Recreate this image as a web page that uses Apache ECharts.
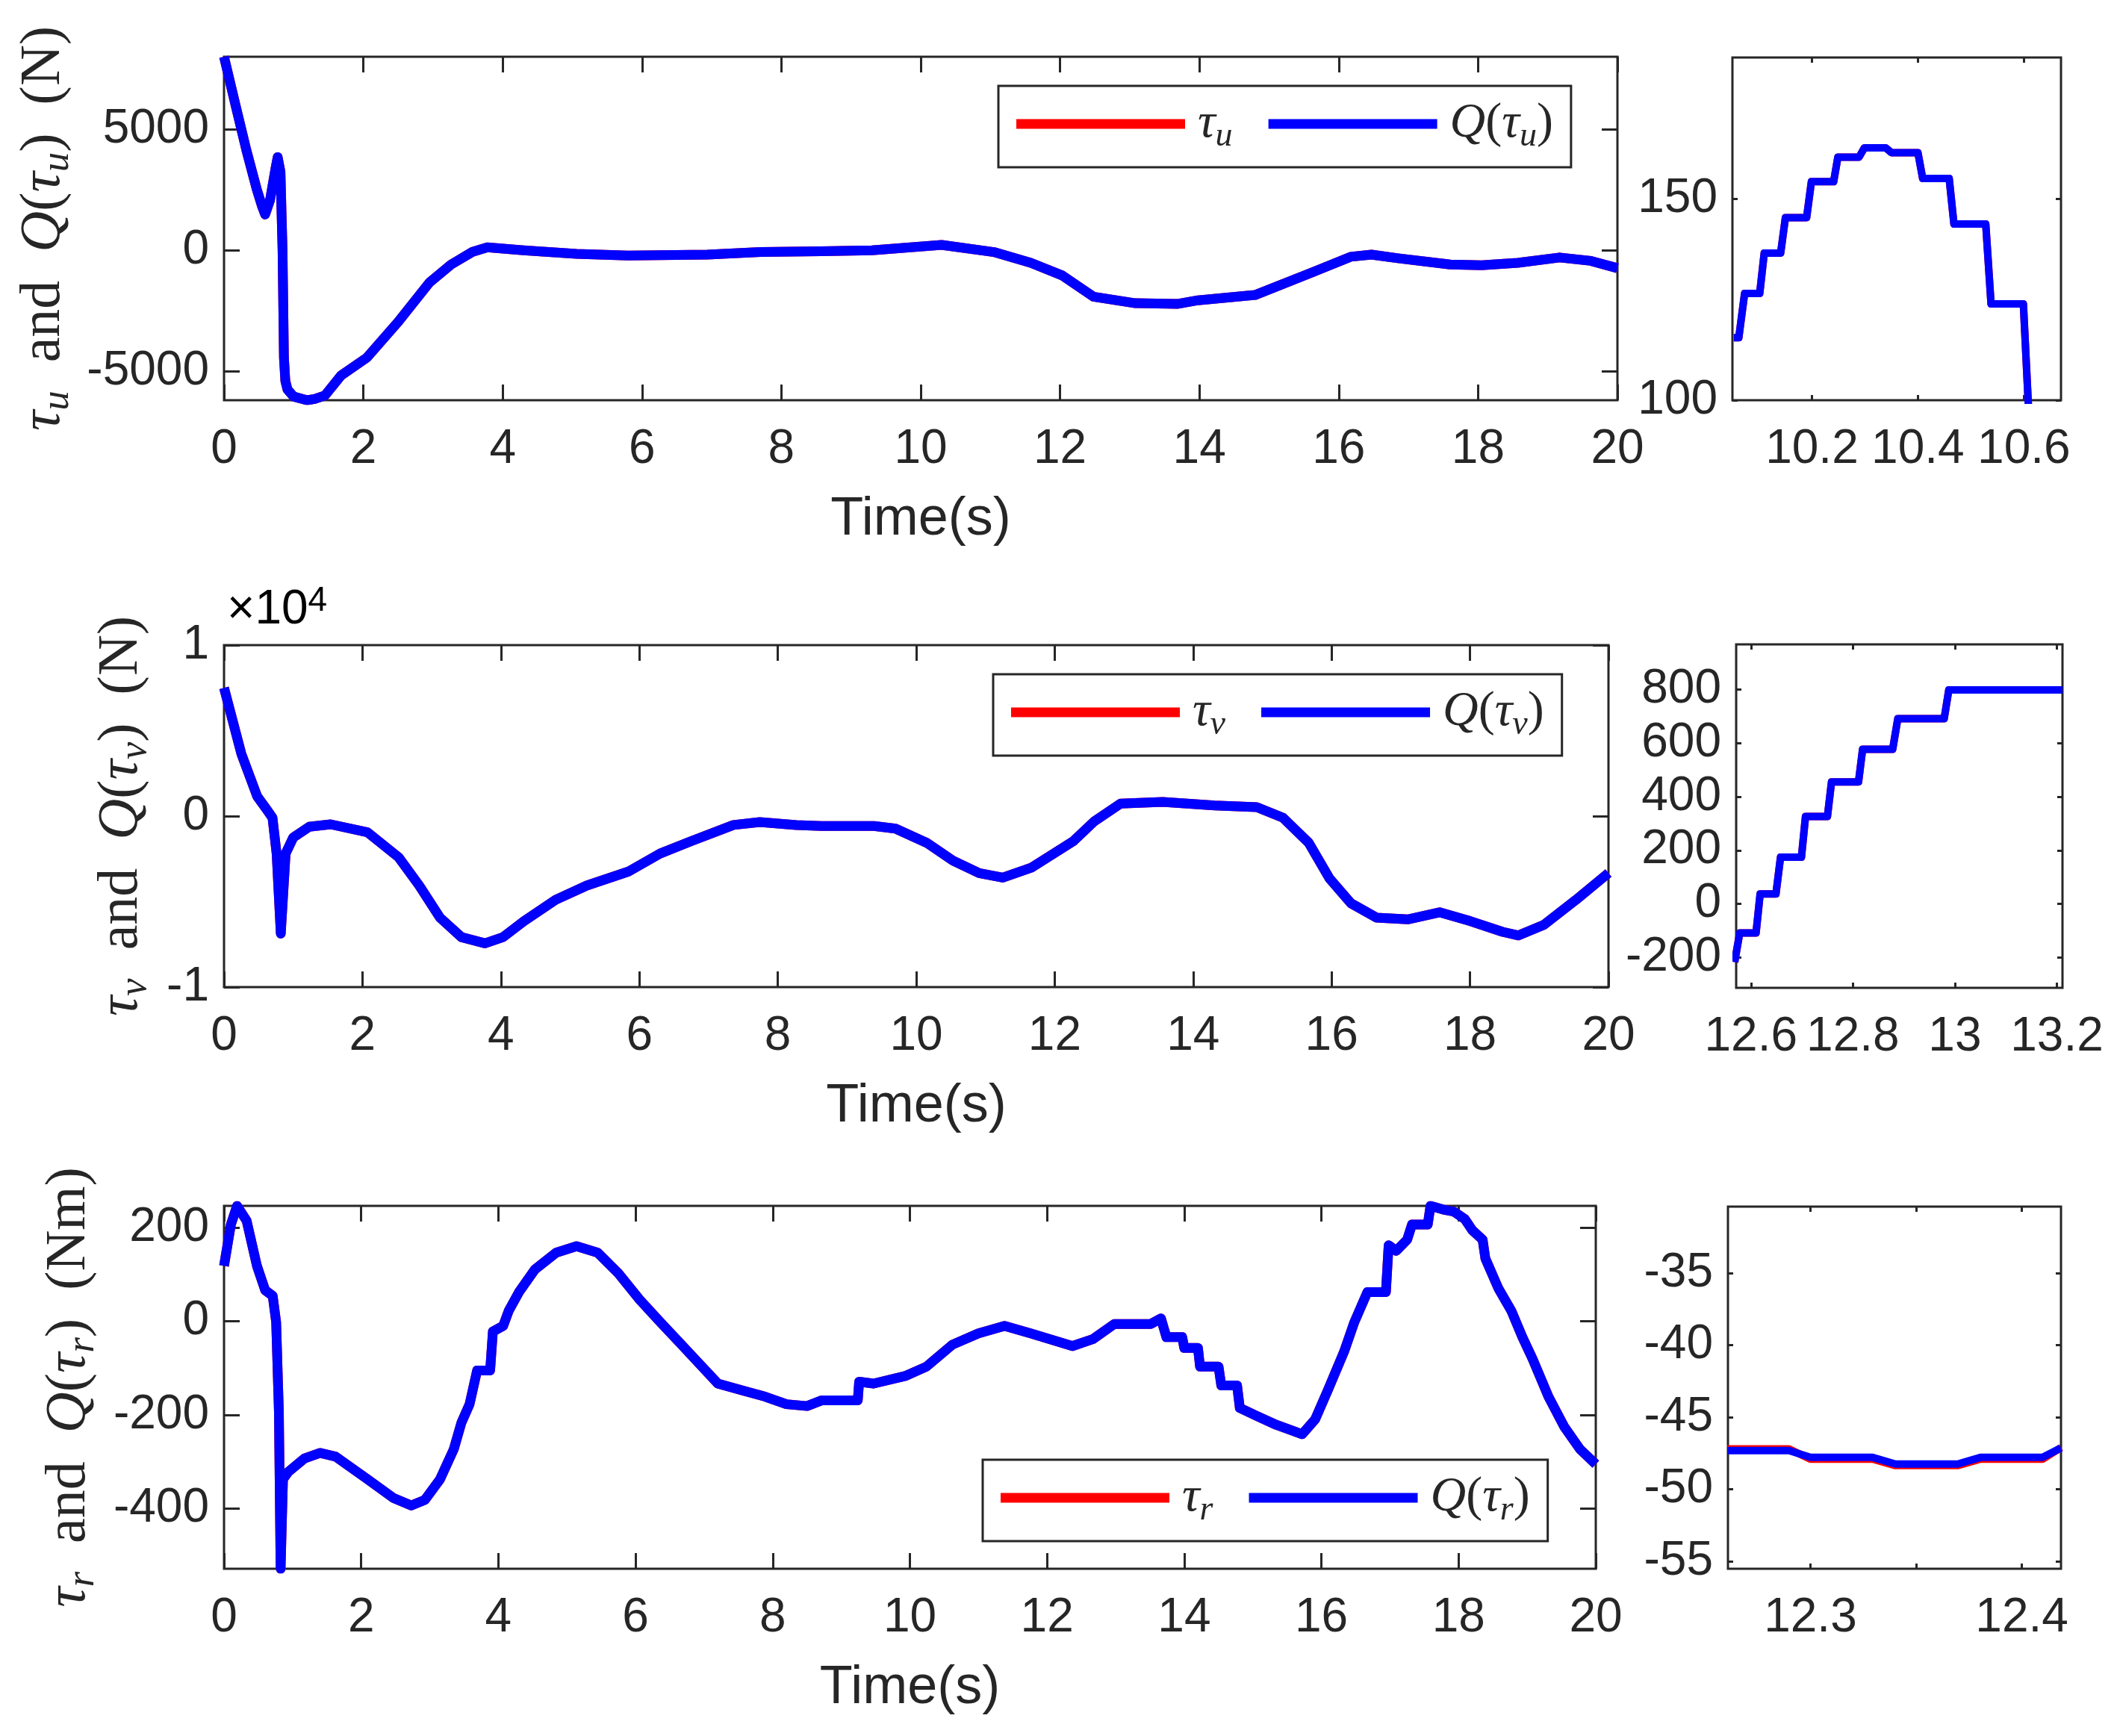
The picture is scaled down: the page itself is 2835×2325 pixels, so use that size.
<!DOCTYPE html>
<html>
<head>
<meta charset="utf-8">
<script src="https://cdn.jsdelivr.net/npm/echarts@6/dist/echarts.min.js"></script>
<style>
  html, body { margin: 0; padding: 0; background: #fff; }
  #chart { width: 2835px; height: 2325px; }
</style>
</head>
<body>
<div id="chart"></div>
<script>
// surge force tau_u (N)
const timeU = [0, 0.17, 0.32, 0.47, 0.55, 0.59, 0.66, 0.74, 0.77, 0.81, 0.84, 0.86, 0.88, 0.91, 1.0, 1.19, 1.3, 1.45, 1.68, 2.05, 2.5, 2.95, 3.26, 3.56, 3.78, 4.3, 5.06, 5.8, 6.94, 7.7, 8.57, 9.3, 10.3, 11.05, 11.58, 12.03, 12.48, 13.08, 13.68, 13.98, 14.8, 15.64, 16.17, 16.47, 16.85, 17.6, 18.05, 18.57, 19.17, 19.62, 20];
const tauU  = [8000, 5940, 4150, 2520, 1780, 1480, 2070, 3400, 3850, 3250, 0, -4440, -5400, -5750, -6050, -6200, -6150, -6000, -5180, -4440, -2960, -1330, -590, -74, 118, 0, -150, -220, -180, -75, -40, 0, 220, -75, -520, -1040, -1920, -2190, -2220, -2070, -1850, -890, -270, -180, -330, -590, -620, -520, -300, -440, -740];

// zoom on tau_u around t = 10.3 s (quantised steps)
const zoomTimeU = [10.0526, 10.062, 10.073, 10.1015, 10.110, 10.141, 10.150, 10.190, 10.199, 10.241, 10.249, 10.289, 10.299, 10.339, 10.350, 10.400, 10.409, 10.459, 10.468, 10.528, 10.538, 10.599, 10.608, 10.611];
const zoomQU    = [115.5, 115.5, 126.5, 126.5, 136.5, 136.5, 145.3, 145.3, 154.2, 154.2, 160.3, 160.3, 162.6, 162.6, 161.4, 161.4, 155.0, 155.0, 143.7, 143.7, 123.9, 123.9, 100, 92];

// sway force tau_v (N)
const timeV = [0, 0.25, 0.48, 0.63, 0.70, 0.76, 0.82, 0.89, 1.0, 1.23, 1.54, 2.07, 2.52, 2.82, 3.12, 3.43, 3.77, 4.03, 4.33, 4.79, 5.24, 5.85, 6.3, 6.75, 7.36, 7.74, 8.27, 8.63, 9.39, 9.70, 10.15, 10.53, 10.91, 11.25, 11.66, 12.27, 12.57, 12.95, 13.56, 14.31, 14.92, 15.3, 15.67, 15.97, 16.28, 16.65, 17.1, 17.56, 18.01, 18.47, 18.7, 19.07, 19.53, 20];
const tauV  = [7500, 3650, 1150, 310, -100, -2200, -6875, -2190, -1250, -625, -480, -940, -2400, -4060, -5940, -7080, -7440, -7080, -6150, -4900, -4060, -3230, -2190, -1460, -520, -350, -520, -580, -580, -730, -1560, -2600, -3330, -3600, -3020, -1460, -310, 730, 830, 625, 520, -100, -1560, -3650, -5100, -5940, -6040, -5625, -6150, -6770, -6980, -6350, -4900, -3330];

// zoom on tau_v around t = 12.8 s
const zoomTimeV = [12.568, 12.578, 12.610, 12.618, 12.649, 12.658, 12.699, 12.707, 12.750, 12.758, 12.811, 12.819, 12.878, 12.888, 12.979, 12.988, 13.211];
const zoomQV    = [-217, -108, -108, 37, 37, 174, 174, 326, 326, 455, 455, 577, 577, 691, 691, 798, 798];

// yaw moment tau_r (Nm)
const timeR = [0, 0.1, 0.19, 0.33, 0.48, 0.6, 0.71, 0.76, 0.80, 0.825, 0.86, 0.94, 1.17, 1.40, 1.63, 2.09, 2.47, 2.73, 2.93, 3.15, 3.35, 3.46, 3.58, 3.69, 3.88, 3.92, 4.07, 4.15, 4.3, 4.53, 4.84, 5.14, 5.45, 5.75, 6.06, 6.36, 6.67, 6.97, 7.2, 7.59, 7.89, 8.2, 8.5, 8.71, 9.24, 9.26, 9.47, 9.93, 10.24, 10.62, 11.0, 11.38, 11.76, 12.37, 12.67, 12.98, 13.51, 13.66, 13.74, 13.97, 14.0, 14.2, 14.23, 14.5, 14.54, 14.77, 14.81, 15.04, 15.34, 15.72, 15.91, 16.1, 16.33, 16.48, 16.67, 16.94, 16.98, 17.09, 17.25, 17.32, 17.55, 17.59, 17.78, 17.93, 18.09, 18.2, 18.35, 18.39, 18.58, 18.77, 18.93, 19.08, 19.31, 19.54, 19.77, 20];
const tauR  = [118, 206, 246, 214, 118, 66, 54, -2, -193, -528, -337, -321, -293, -281, -289, -337, -377, -393, -381, -337, -273, -217, -177, -105, -105, -22, -10, 22, 62, 110, 146, 160, 146, 102, 46, -2, -50, -97, -133, -149, -161, -177, -181, -169, -169, -129, -133, -117, -97, -50, -26, -10, -26, -53, -38, -6, -6, 6, -34, -34, -57, -57, -97, -97, -137, -137, -185, -201, -221, -241, -209, -145, -65, -2, 62, 62, 162, 150, 174, 206, 206, 246, 238, 234, 218, 194, 174, 134, 70, 22, -34, -81, -161, -225, -273, -305];

// zoom on tau_r around t = 12.34 s
const zoomTimeR = [12.2607, 12.2899, 12.300, 12.3294, 12.3402, 12.3696, 12.3804, 12.4098, 12.4185];
const zoomTauR  = [-47.2, -47.2, -47.9, -47.9, -48.35, -48.35, -47.9, -47.9, -47.1];
const zoomQR    = [-47.31, -47.31, -47.78, -47.78, -48.24, -48.24, -47.78, -47.78, -47.13];

// tick positions
const timeTicks   = [0, 2, 4, 6, 8, 10, 12, 14, 16, 18, 20];
const uTicks      = [-5000, 0, 5000];
const vTicks      = [-10000, 0, 10000];
const rTicks      = [-400, -200, 0, 200];
const zoomUXTicks = [10.2, 10.4, 10.6];
const zoomUYTicks = [100, 150];
const zoomVXTicks = [12.6, 12.8, 13, 13.2];
const zoomVYTicks = [-200, 0, 200, 400, 600, 800];
const zoomRXTicks = [12.3, 12.35, 12.4];
const zoomRXLabels = [12.3, 12.4];
const zoomRYTicks = [-55, -50, -45, -40, -35];

const INK = '#262626';
const SANS = '"Liberation Sans", Arial, Helvetica, sans-serif';
const SERIF = '"Liberation Serif", "Times New Roman", serif';
const RED = '#ff0000';
const BLUE = '#0000ff';

const zip = (xs, ys) => xs.map((x, i) => [x, ys[i]]);
const num = v => String(parseFloat(Number(v).toFixed(2)));

// rich styles for the LaTeX-like labels
function mathRich(size) {
    const sub = Math.round(size * 0.7);
    return {
        it:  { fontFamily: SERIF, fontStyle: 'italic', fontSize: size, lineHeight: size + 14, color: INK },
        rm:  { fontFamily: SERIF, fontSize: size, lineHeight: size + 14, color: INK },
        sub: { fontFamily: SERIF, fontStyle: 'italic', fontSize: sub, lineHeight: sub, verticalAlign: 'bottom', color: INK }
    };
}

const option = {
    animation: false,
    backgroundColor: '#fff',
    grid: [], xAxis: [], yAxis: [], series: [], legend: [], graphic: []
};

/**
 * One boxed axes: bottom/left axes with labels, top/right mirrors with ticks only
 */
function addPanel(p) {
    const g = option.grid.length;
    option.grid.push({
        left: p.box[0], top: p.box[1], width: p.box[2], height: p.box[3],
        show: true, borderColor: INK, borderWidth: 3, backgroundColor: 'transparent'
    });
    const tick = (vals) => ({ show: true, inside: true, length: p.tick, customValues: vals, lineStyle: { color: INK, width: 3 } });
    const noLine = { show: false, onZero: false };
    const xi = option.xAxis.length;
    option.xAxis.push({
        gridIndex: g, type: 'value', min: p.x[0], max: p.x[1], position: 'bottom',
        axisLine: noLine, splitLine: { show: false },
        axisTick: tick(p.xTicks),
        axisLabel: { customValues: p.xLabels || p.xTicks, formatter: num, margin: 34, fontSize: 64, lineHeight: 64, color: INK, fontFamily: SANS },
        name: p.xName || '', nameLocation: 'middle', nameGap: 124,
        nameTextStyle: { fontSize: 72, fontFamily: SANS, color: INK }
    });
    option.xAxis.push({
        gridIndex: g, type: 'value', min: p.x[0], max: p.x[1], position: 'top',
        axisLine: noLine, splitLine: { show: false },
        axisTick: tick(p.xTicks), axisLabel: { show: false }
    });
    const yi = option.yAxis.length;
    option.yAxis.push({
        gridIndex: g, type: 'value', min: p.y[0], max: p.y[1], position: 'left',
        axisLine: noLine, splitLine: { show: false },
        axisTick: tick(p.yTicks),
        axisLabel: { customValues: p.yTicks, formatter: p.yFmt || num, margin: 20, fontSize: 64, lineHeight: 64, color: INK, fontFamily: SANS },
        name: p.yName || '', nameLocation: 'middle', nameRotate: 90, nameGap: p.yNameGap || 0,
        nameTextStyle: { rich: mathRich(76) }
    });
    option.yAxis.push({
        gridIndex: g, type: 'value', min: p.y[0], max: p.y[1], position: 'right',
        axisLine: noLine, splitLine: { show: false },
        axisTick: tick(p.yTicks), axisLabel: { show: false }
    });
    return { xi, yi, lw: p.lw };
}

function addLine(ax, name, data, color) {
    option.series.push({
        type: 'line', name, xAxisIndex: ax.xi, yAxisIndex: ax.yi, data,
        symbol: 'none', clip: true,
        lineStyle: { color, width: ax.lw, join: 'round' },
        itemStyle: { color }
    });
}

const legendText = {
    'τu': '{it|τ}{sub|u}', 'Q(τu)': '{it|Q}{rm|(}{it|τ}{sub|u}{rm|)}',
    'τv': '{it|τ}{sub|v}', 'Q(τv)': '{it|Q}{rm|(}{it|τ}{sub|v}{rm|)}',
    'τr': '{it|τ}{sub|r}', 'Q(τr)': '{it|Q}{rm|(}{it|τ}{sub|r}{rm|)}'
};

function addLegend(names, left, top) {
    option.legend.push({
        data: names, left, top, orient: 'horizontal', icon: 'rect',
        itemWidth: 226, itemHeight: 13, itemGap: 48,
        padding: [18, 24, 18, 24], borderColor: INK, borderWidth: 3, backgroundColor: '#fff',
        selectedMode: false,
        formatter: n => legendText[n],
        textStyle: { padding: [0, 0, 0, 12], rich: mathRich(66) }
    });
}

// ---- top row: tau_u
const pu = addPanel({ box: [300, 76, 1866, 460], x: [0, 20], xTicks: timeTicks, y: [-6200, 8000], yTicks: uTicks, tick: 21, lw: 13,
    xName: 'Time(s)', yName: '{it|τ}{sub|u}{rm|  and  }{it|Q}{rm|(}{it|τ}{sub|u}{rm|)  (N)}', yNameGap: 196 });
addLine(pu, 'τu', zip(timeU, tauU), RED);
addLine(pu, 'Q(τu)', zip(timeU, tauU), BLUE);
addLegend(['τu', 'Q(τu)'], 1337, 115);

const zu = addPanel({ box: [2320, 77, 440, 459], x: [10.05, 10.67], xTicks: zoomUXTicks, y: [100, 185], yTicks: zoomUYTicks, tick: 7, lw: 10 });
addLine(zu, 'τu zoom', zip(zoomTimeU, zoomQU), RED);
addLine(zu, 'Q(τu) zoom', zip(zoomTimeU, zoomQU), BLUE);

// ---- middle row: tau_v
const pv = addPanel({ box: [300, 864, 1854, 458], x: [0, 20], xTicks: timeTicks, y: [-10000, 10000], yTicks: vTicks, tick: 21, lw: 13,
    yFmt: v => String(Math.round(v / 10000)),
    xName: 'Time(s)', yName: '{it|τ}{sub|v}{rm|  and  }{it|Q}{rm|(}{it|τ}{sub|v}{rm|)  (N)}', yNameGap: 92 });
addLine(pv, 'τv', zip(timeV, tauV), RED);
addLine(pv, 'Q(τv)', zip(timeV, tauV), BLUE);
addLegend(['τv', 'Q(τv)'], 1330, 903);

const zv = addPanel({ box: [2325, 863, 437, 460], x: [12.571, 13.211], xTicks: zoomVXTicks, y: [-313, 968], yTicks: zoomVYTicks, tick: 7, lw: 10 });
addLine(zv, 'τv zoom', zip(zoomTimeV, zoomQV), RED);
addLine(zv, 'Q(τv) zoom', zip(zoomTimeV, zoomQV), BLUE);

// ---- bottom row: tau_r
const pr = addPanel({ box: [300, 1615, 1837, 486], x: [0, 20], xTicks: timeTicks, y: [-528, 246], yTicks: rTicks, tick: 21, lw: 13,
    xName: 'Time(s)', yName: '{it|τ}{sub|r}{rm|  and  }{it|Q}{rm|(}{it|τ}{sub|r}{rm|)  (Nm)}', yNameGap: 162 });
addLine(pr, 'τr', zip(timeR, tauR), RED);
addLine(pr, 'Q(τr)', zip(timeR, tauR), BLUE);
addLegend(['τr', 'Q(τr)'], 1316, 1955);

const zr = addPanel({ box: [2314, 1616, 446, 485], x: [12.261, 12.4185], xTicks: zoomRXTicks, xLabels: zoomRXLabels, y: [-55.5, -30.4], yTicks: zoomRYTicks, tick: 7, lw: 10 });
addLine(zr, 'τr zoom', zip(zoomTimeR, zoomTauR), RED);
addLine(zr, 'Q(τr) zoom', zip(zoomTimeR, zoomQR), BLUE);

// exponent label of the middle axes
option.graphic.push({
    type: 'text', left: 304, top: 782,
    style: {
        text: '{a|×10}{b|4}',
        rich: {
            a: { fontFamily: SANS, fontSize: 64, lineHeight: 70, color: INK },
            b: { fontFamily: SANS, fontSize: 46, lineHeight: 46, verticalAlign: 'top', color: INK }
        }
    }
});

const chart = echarts.init(document.getElementById('chart'), null, { renderer: 'canvas' });
chart.setOption(option);
</script>
</body>
</html>
